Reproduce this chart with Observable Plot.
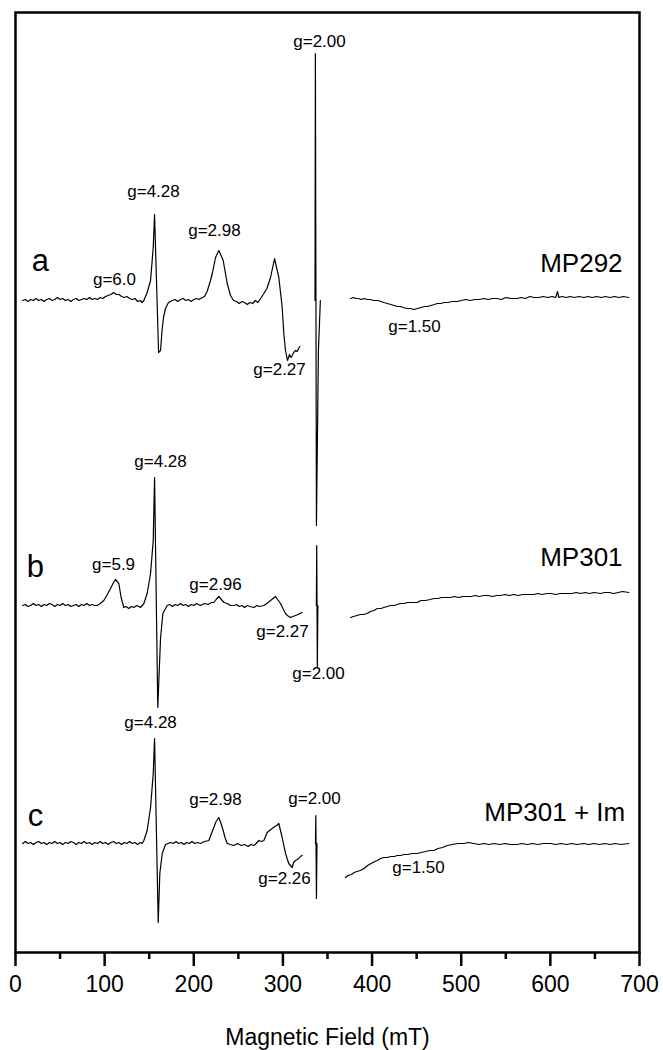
<!DOCTYPE html>
<html>
<head>
<meta charset="utf-8">
<script src="https://cdn.jsdelivr.net/npm/d3@7"></script>
<script src="https://cdn.jsdelivr.net/npm/@observablehq/plot@0.6"></script>
<style>
  html, body { margin: 0; padding: 0; background: #fff; }
  #chart svg { display: block; }
</style>
</head>
<body>
<div id="chart"></div>
<script>
// ---------- data (field in mT, intensity relative to each trace's baseline, a.u.) ----------
const traceA_low = [
[8,0],[11,1],[14,-1],[17,1],[20,0],[23,2],[26,0],[29,1],[32,-1],[35,1],[38,2],[41,0],[44,1],[47,3],[50,1],[53,2],[56,0],[59,1],[62,-1],[65,1],[68,2],[71,0],[74,1],[77,2],[80,1],[83,3],[86,1],[89,2],[92,1],[95,3],[98,2],[101,4],[104,5],[107,6],[110,8],[113,6],[116,6],[119,4],[122,3],[125,4],[128,2],[131,1],[134,2],[137,-1],[140,0],[142,-2],[144,0],
[147.7,8],[151.5,20],[154.5,53],[156,86],[160.5,-52],[162.7,-50],[164.4,-30],[166,-17],[168.3,-8],[171.6,-2],[176,0],
[179,1],[182,-1],[185,1],[188,2],[191,0],[194,1],[197,-1],[200,1],[203,2],[206,1],
[207.5,2],[212,4],[215,9],[218.8,20],[221,28],[224.4,43],[228.1,50],[233,40],[237.5,17],[241.2,5],[244.6,0],
[248,-1],[251,-3],[254,-1],[257,-2],[260,-4],[263,-2],[266,-3],[269,0],[272,-2],[275,2],
[278.6,7],[282,12],[286.1,23],[290.6,42],[295.4,23],[299.2,-7],[301,-33],[302.9,-50],[305.1,-60],[307.4,-54],[309,-57],[310.4,-55],[312,-52],[314.1,-50],[316,-51],[317.5,-48],[319,-46]
];
const traceA_g200 = [[336,0],[336.4,247],[337.6,-225],[339.8,-50],[342,0]];
const traceA_high = [
[376,2],[379,3],[382,2],[385,2],[388,1],[391,2],[394.6,1],[398,1],[402,0],[406,0],[410,-1],[413.2,-2],[417,-3],[421,-4],[425,-5],[428,-6],[431.9,-6],[435,-7],[439,-8],[443,-8],[447,-9],[451,-8],[455,-7],[459,-6],[462,-6],[466,-5],[470,-4],[473,-3],[476.8,-3],[481,-2],[485,-2],[490,-1],[495.5,-1],[500,0],[505,1],[510,0],[515,1],[520,1],[525.4,2],[530,1],[535,2],[540,2],[545,1],[550,3],[556,2],[562.8,2],[567,3],[572,2],[577,4],[582,3],[587,3],[592,4],[597,3],[602,4],[606,3],[608,9],[609.5,3],[613,4],[618,3],[622,4],[627,3],[632,4],[637.6,3],[642,4],[647,3],[652,4],[657,3],[662,4],[667,3],[672,4],[677,3],[682,4],[688,3]
];

const traceB_low = [
[8,0],[11,1],[14,-1],[17,0],[20,2],[23,0],[26,1],[29,-1],[32,1],[35,0],[38,2],[41,1],[44,-1],[47,1],[50,0],[53,2],[56,0],[59,1],[62,-1],[65,0],[68,1],[71,-1],[74,1],[77,0],[80,2],[83,0],[86,1],[89,0],
[91.6,0],[95,2],[99.1,5],[103,11],[106.6,17],[110,23],[112.2,26],[114,24],[115.9,22],[118.5,8],[121.5,-2],[124,-1],[127.1,-3],[130,-1],[132.7,-2],[136,0],[140.2,-2],[144,2],[147.7,12],[151.5,32],[154.5,65],[156,128],[159.6,-102],[162.7,-33],[165.3,-8],[170.2,0],
[173,1],[176,-1],[179,1],[182,0],[185,2],[188,0],[191,1],[194,-1],[197,1],[200,0],[203,2],
[207.5,0],[212,2],[216,1],[220,3],[222.5,3],[225,6],[228.1,9],[231.9,5],[234,3],[237.5,2],[241,0],[245,0],
[248,1],[251,-1],[254,0],[257,-2],[260,0],[263,-1],[267.4,-2],[271,0],[274,-1],[278.6,0],[282,2],[286.1,5],[291.7,9],[294,6],[297.3,2],[300,-3],[302.9,-8],[305,-10],[308.5,-12],[311,-11],[314.1,-10],[317,-9],[319,-8],[321.6,-7]
];
const traceB_g200 = [[337.5,0],[337.9,60],[338.6,-62],[339.2,0]];
const traceB_high = [
[375.8,-12],[379,-11],[383,-10],[387,-9],[390,-9],[394.6,-8],[398,-6],[402,-5],[406,-3],[410,-3],[413.2,-2],[417,-1],[421,0],[425,0],[428,1],[431.9,2],[436,2],[440,3],[445,3],[450.6,3],[455,5],[460,5],[465,6],[469.3,7],[474,7],[478,8],[483,8],[488,8],[492,9],[497,8],[502,9],[506.7,9],[511,9],[516,10],[520,9],[525.4,10],[530,10],[535,9],[540,10],[544.1,10],[549,11],[554,10],[559,11],[564,10],[569,11],[574,11],[581.5,11],[586,12],[591,11],[596,12],[601,12],[606,11],[611,12],[618.9,12],[624,12],[629,13],[634,12],[639,13],[644,12],[649,13],[656.3,12],[661,13],[666,13],[671,12],[676,13],[681,14],[688,13]
];

const traceC_low = [
[8,0],[11,2],[14,0],[17,1],[20,-1],[23,1],[26,2],[29,0],[32,1],[35,-1],[38,1],[41,0],[44,2],[47,0],[50,1],[53,-1],[56,1],[59,0],[62,2],[65,1],[68,-1],[71,1],[74,0],[77,2],[80,0],[83,1],[86,-1],[89,1],[92,0],[95,2],[98,0],[101,1],[104,-1],[107,1],[110,2],[113,0],[116,1],[119,-1],[122,1],[125,0],[128,2],[131,0],[134,1],[137,-1],[140,1],[142,0],
[144,3],[147.7,13],[151.5,36],[154.5,70],[156,105],[160.1,-79],[161.9,-30],[164.6,-10],[168.3,-1],[173.9,1],
[177,0],[180,2],[183,0],[186,1],[189,-1],[192,1],[195,0],[198,2],[201,0],[204,1],
[207.5,0],[212,2],[216.9,3],[219,8],[222.5,16],[225,22],[228.1,26],[230.5,20],[233,13],[235,6],[237.5,0],[241,-1],[245,-2],
[249,0],[253,-2],[257,-1],[261,-3],[264,-1],[267.4,-2],[270,0],[273,3],[276,2],[278.6,3],[280.5,7],[282.4,11],[285,13],[288,15],[291,17],[293,18],[295.4,20],[297,14],[299.2,6],[301,-2],[303,-10],[305,-16],[306.6,-20],[308.5,-22],[310.4,-24],[312,-19],[314.1,-17],[316,-16],[317.8,-15],[319.5,-13],[321.6,-12]
];
const traceC_g200 = [[336.5,0],[336.9,28],[337.6,-55],[338.2,0]];
const traceC_high = [
[370.2,-34],[373,-32],[377,-31],[380,-29],[383,-28],[387,-27],[391,-25],[395,-22],[399,-20],[403,-18],[406,-17],[409.5,-15],[413,-14],[417,-14],[421,-13],[425,-13],[428,-12],[431.9,-12],[436,-11],[440,-11],[445,-10],[450.6,-10],[455,-9],[460,-8],[465,-7],[469.3,-7],[474,-5],[479,-4],[484.3,-2],[490,-1],[496,0],[502.9,0],[508,1],[514,0],[520,-1],[525.4,0],[531,-1],[537,0],[543,-1],[549,0],[555,-1],[562.8,-1],[568,0],[574,-1],[580,0],[586,-1],[592,0],[600.2,0],[606,-1],[612,0],[618,-1],[624,0],[630,-1],[637.6,0],[643,-1],[649,0],[655,-1],[661,0],[667,-1],[673,0],[679,-1],[688,0]
];

// annotations: [text, field (mT), intensity in plot units]
const gLabels = [
  ["g=2.00", 341, 911], ["g=4.28", 154.8, 761], ["g=6.0", 111, 673], ["g=2.98", 223.2, 722], ["g=2.27", 296.2, 583], ["g=1.50", 447.6, 626],
  ["g=5.9", 110, 388], ["g=4.28", 162.7, 491], ["g=2.96", 224.4, 368], ["g=2.27", 299.5, 321], ["g=2.00", 339.9, 279],
  ["g=4.28", 151.5, 230], ["g=2.98", 224.4, 153], ["g=2.00", 335.4, 154], ["g=2.26", 301.8, 74], ["g=1.50", 452.1, 85]
];
const panelLetters = [["a", 28, 691], ["b", 22.4, 385], ["c", 22.4, 136]];
const sampleNames = [["MP292", 681, 689], ["MP301", 681, 395], ["MP301 + Im", 684, 140]];

const majorTicks = [0, 100, 200, 300, 400, 500, 600, 700];
const minorTicks = [50, 150, 250, 350, 450, 550, 650];
const xTitle = "Magnetic Field (mT)";

// ---------- build ----------
const traces = [
  {name: "a", offset: 652, segs: [traceA_low, traceA_g200, traceA_high]},
  {name: "b", offset: 347, segs: [traceB_low, traceB_g200, traceB_high]},
  {name: "c", offset: 109, segs: [traceC_low, traceC_g200, traceC_high]}
];
const rows = traces.flatMap(t => t.segs.flatMap((s, i) =>
  s.map(([f, v]) => ({field: f, value: v + t.offset, seg: t.name + i}))));
const toObj = arr => arr.map(([text, field, value]) => ({text, field, value}));

const font = "'Liberation Sans', Arial, Helvetica, sans-serif";

const chart = Plot.plot({
  width: 663,
  height: 1050,
  marginLeft: 15,
  marginRight: 24,
  marginTop: 12,
  marginBottom: 98,
  x: {domain: [0, 700]},
  y: {domain: [0, 940], axis: null},
  style: {fontFamily: font, color: "black", background: "white", overflow: "visible"},
  marks: [
    Plot.line(rows, {x: "field", y: "value", z: "seg", stroke: "black", strokeWidth: 1.2}),
    Plot.frame({stroke: "black", strokeWidth: 2.5}),
    Plot.axisX({ticks: majorTicks, tickSize: 14, tickPadding: 9, fontSize: 23, strokeWidth: 2.5, label: null, tickFormat: d => d}),
    Plot.axisX({ticks: minorTicks, tickSize: 7, strokeWidth: 2.5, label: null, tickFormat: () => ""}),
    Plot.text([xTitle], {frameAnchor: "bottom", dy: 85, fontSize: 23, lineAnchor: "middle", fill: "black"}),
    Plot.text(toObj(gLabels), {x: "field", y: "value", text: "text", fontSize: 17, lineAnchor: "middle", fill: "black"}),
    Plot.text(toObj(panelLetters), {x: "field", y: "value", text: "text", fontSize: 31, lineAnchor: "middle", fill: "black"}),
    Plot.text(toObj(sampleNames), {x: "field", y: "value", text: "text", fontSize: 26, textAnchor: "end", lineAnchor: "middle", fill: "black"})
  ]
});
document.getElementById("chart").appendChild(chart);
</script>
</body>
</html>
